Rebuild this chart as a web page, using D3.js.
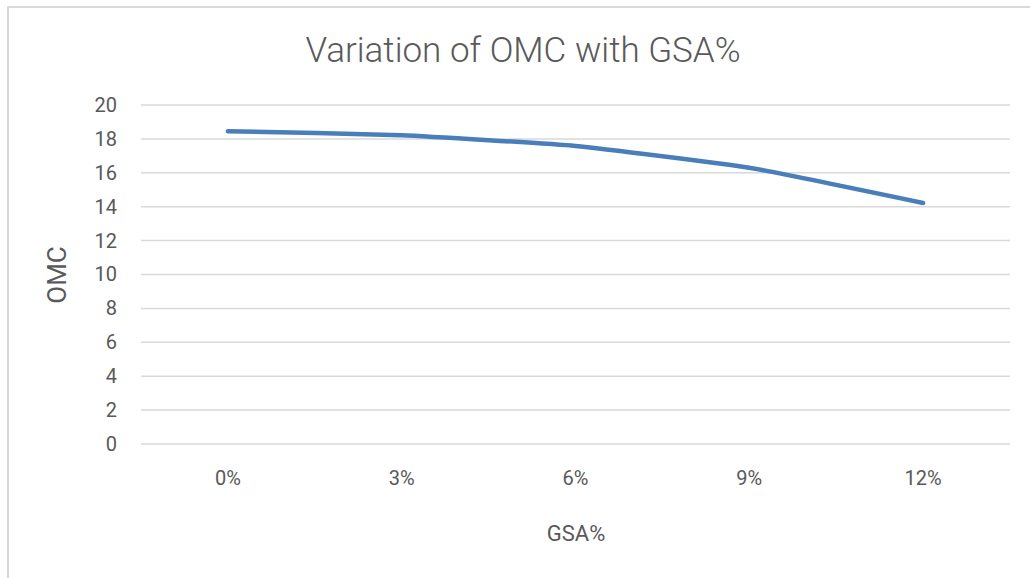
<!DOCTYPE html>
<html>
<head>
<meta charset="utf-8">
<script src="https://cdn.jsdelivr.net/npm/d3@7"></script>
<style>
  body { margin: 0; background: #fff; }
  svg text { font-family: Roboto, "Liberation Sans", sans-serif; fill: #595959; }
</style>
</head>
<body>
<div class="visHolder"></div>
<script>
// data
var categories = ["0%", "3%", "6%", "9%", "12%"];
var omcValues = [18.45, 18.22, 17.58, 16.3, 14.22];
var yTicks = [0, 2, 4, 6, 8, 10, 12, 14, 16, 18, 20];

var W = 1030, H = 578;
var margin = { top: 105, right: 20, bottom: 134, left: 141 },
    width = 1010 - margin.left,
    height = 444 - margin.top;

var root = d3.select(".visHolder")
    .append("svg")
    .attr("width", W)
    .attr("height", H);

// chart frame
root.append("rect")
    .attr("x", 8).attr("y", 7)
    .attr("width", W + 10).attr("height", H + 10)
    .attr("fill", "none")
    .attr("stroke", "#d9d9d9")
    .attr("stroke-width", 2);

root.append("text")
    .attr("x", 523).attr("y", 62)
    .attr("text-anchor", "middle")
    .style("font-size", "35px")
    .style("font-weight", 300)
    .text("Variation of OMC with GSA%");

var svg = root.append("g")
    .attr("transform", "translate(" + margin.left + "," + margin.top + ")");

var x = d3.scaleBand()
    .domain(categories)
    .range([0, width]);

var y = d3.scaleLinear()
    .domain([0, 20])
    .range([height, 0]);

// gridlines
svg.append("g")
    .selectAll("line")
    .data(yTicks)
    .enter()
    .append("line")
    .attr("x1", 0).attr("x2", width)
    .attr("y1", (d) => y(d)).attr("y2", (d) => y(d))
    .attr("stroke", "#d9d9d9")
    .attr("stroke-width", 1.5);

// y axis labels
var yAxis = svg.append("g")
    .call(d3.axisLeft(y).tickValues(yTicks).tickSize(0).tickPadding(24));
yAxis.select(".domain").remove();
yAxis.selectAll("text")
    .style("font-size", "20px")
    .attr("fill", "#595959");

// x axis labels
var xAxis = svg.append("g")
    .attr("transform", "translate(0," + height + ")")
    .call(d3.axisBottom(x).tickSize(0).tickPadding(27));
xAxis.select(".domain").remove();
xAxis.selectAll("text")
    .style("font-size", "20px")
    .attr("fill", "#595959");

// axis titles
root.append("text")
    .attr("x", 576).attr("y", 541)
    .attr("text-anchor", "middle")
    .style("font-size", "22px")
    .text("GSA%");

root.append("text")
    .attr("transform", "translate(66,275) rotate(-90)")
    .attr("text-anchor", "middle")
    .style("font-size", "26px")
    .text("OMC");

// the line, lightly smoothed like the original
var line = d3.line()
    .x((d, i) => x(categories[i]) + x.bandwidth() / 2)
    .y((d) => y(d))
    .curve(d3.curveCardinal.tension(0.6));

svg.append("path")
    .datum(omcValues)
    .attr("d", line)
    .attr("fill", "none")
    .attr("stroke", "#4a7ebb")
    .attr("stroke-width", 4.5)
    .attr("stroke-linecap", "round")
    .attr("stroke-linejoin", "round");
</script>
</body>
</html>
